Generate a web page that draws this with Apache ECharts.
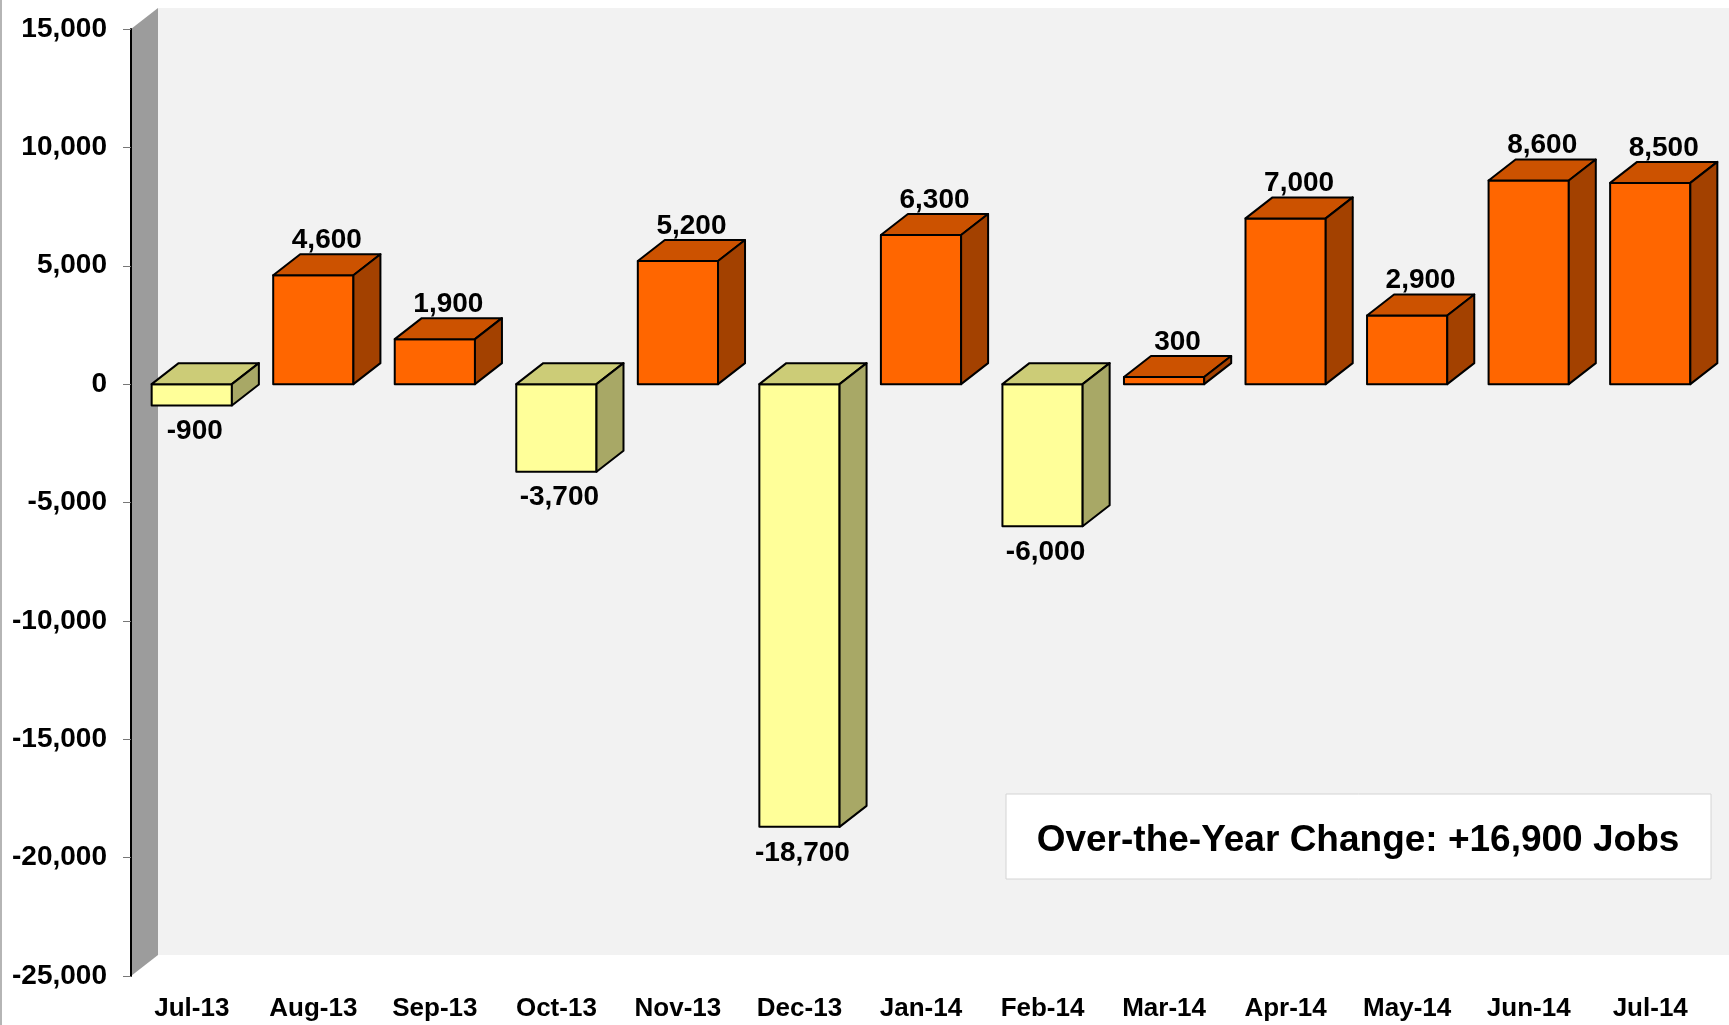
<!DOCTYPE html>
<html>
<head>
<meta charset="utf-8">
<title>Over-the-Year Change</title>
<script src="https://cdn.jsdelivr.net/npm/echarts@6/dist/echarts.min.js"></script>
<style>
  html, body { margin: 0; padding: 0; background: #fff; }
  #chart { width: 1729px; height: 1025px; }
</style>
</head>
<body>
<div id="chart"></div>
<script>
// data
const months = ['Jul-13', 'Aug-13', 'Sep-13', 'Oct-13', 'Nov-13', 'Dec-13', 'Jan-14',
  'Feb-14', 'Mar-14', 'Apr-14', 'May-14', 'Jun-14', 'Jul-14'];
const jobChange = [-900, 4600, 1900, -3700, 5200, -18700, 6300, -6000, 300, 7000, 2900, 8600, 8500];
const yMin = -25000;
const yMax = 15000;
const yStep = 5000;
const summaryText = 'Over-the-Year Change: +16,900 Jobs';

const FONT = 'Liberation Sans, Arial, Helvetica, sans-serif';
const DX = 27;   // 3d depth offset
const DY = -21;

const upColors = { front: '#ff6600', top: '#cc5200', side: '#a34100' };
const downColors = { front: '#ffff99', top: '#cccc77', side: '#a8a866' };

const fmt = v => Number(v).toLocaleString('en-US');

const chart = echarts.init(document.getElementById('chart'));

// back wall + left side wall, from the grid rect
function renderWalls(params, api) {
  const cs = params.coordSys;
  const left = cs.x, top = cs.y, bottom = cs.y + cs.height, right = cs.x + cs.width;
  return {
    type: 'group',
    children: [
      {
        type: 'rect',
        shape: { x: left + DX, y: top + DY, width: right - left + DX, height: bottom - top },
        style: { fill: '#f2f2f2' }
      },
      {
        type: 'polygon',
        shape: { points: [[left, top], [left + DX, top + DY], [left + DX, bottom + DY], [left, bottom]] },
        style: { fill: '#9c9c9c' }
      }
    ]
  };
}

function renderBar(params, api) {
  const i = api.value(0);
  const v = api.value(1);
  const pv = api.coord([i, v]);
  const p0 = api.coord([i, 0]);
  const bw = api.size([1, 0])[0] * 0.66;
  const x0 = pv[0] - bw / 2;
  const x1 = pv[0] + bw / 2;
  const yTop = Math.min(pv[1], p0[1]);
  const yBot = Math.max(pv[1], p0[1]);
  const c = v >= 0 ? upColors : downColors;
  const edge = { stroke: '#000', lineWidth: 2, lineJoin: 'round' };

  const label = v >= 0
    ? { x: (x0 + x1 + DX) / 2, y: yTop + DY, verticalAlign: 'bottom' }
    : { x: pv[0] + 3, y: yBot + 12, verticalAlign: 'top' };

  return {
    type: 'group',
    children: [
      {
        type: 'rect',
        shape: { x: x0, y: yTop, width: x1 - x0, height: yBot - yTop },
        style: Object.assign({ fill: c.front }, edge)
      },
      {
        type: 'polygon',
        shape: { points: [[x0, yTop], [x0 + DX, yTop + DY], [x1 + DX, yTop + DY], [x1, yTop]] },
        style: Object.assign({ fill: c.top }, edge)
      },
      {
        type: 'polygon',
        shape: { points: [[x1, yTop], [x1 + DX, yTop + DY], [x1 + DX, yBot + DY], [x1, yBot]] },
        style: Object.assign({ fill: c.side }, edge)
      },
      {
        type: 'text',
        style: {
          x: label.x,
          y: label.y,
          text: fmt(v),
          align: 'center',
          verticalAlign: label.verticalAlign,
          font: 'bold 28px ' + FONT,
          fill: '#000'
        }
      }
    ]
  };
}

const option = {
  backgroundColor: '#fff',
  animation: false,
  grid: {
    left: 131,
    right: 18,
    top: 29,
    bottom: 49
  },
  xAxis: {
    type: 'category',
    data: months,
    boundaryGap: true,
    axisLine: { show: false },
    axisTick: { show: false },
    axisLabel: {
      interval: 0,
      margin: 20,
      fontFamily: FONT,
      fontWeight: 'bold',
      fontSize: 26,
      color: '#000'
    }
  },
  yAxis: {
    type: 'value',
    min: yMin,
    max: yMax,
    interval: yStep,
    splitLine: { show: false },
    axisLine: { show: true, lineStyle: { color: '#000', width: 2 } },
    axisTick: { show: true, length: 8, lineStyle: { color: '#777', width: 1 } },
    axisLabel: {
      margin: 24,
      fontFamily: FONT,
      fontWeight: 'bold',
      fontSize: 28,
      color: '#000',
      formatter: v => fmt(v)
    }
  },
  graphic: [
    {
      type: 'rect',
      left: 0,
      top: 0,
      shape: { width: 2, height: 1025 },
      style: { fill: '#b5b5b5' },
      z: 100
    },
    {
      type: 'rect',
      z: 100,
      shape: { x: 1006, y: 794, width: 705, height: 85 },
      style: { fill: '#fff', stroke: '#d4d4d4', lineWidth: 1 }
    },
    {
      type: 'text',
      z: 101,
      style: {
        x: 1358,
        y: 841,
        text: summaryText,
        align: 'center',
        verticalAlign: 'middle',
        font: 'bold 37px ' + FONT,
        fill: '#000'
      }
    }
  ],
  series: [
    {
      name: 'walls',
      type: 'custom',
      renderItem: renderWalls,
      data: [[0, 0]],
      clip: false,
      silent: true,
      z: 0
    },
    {
      name: 'Over-the-Year Change',
      type: 'custom',
      renderItem: renderBar,
      data: jobChange.map((v, i) => [i, v]),
      clip: false,
      z: 5
    }
  ]
};

chart.setOption(option);
</script>
</body>
</html>
